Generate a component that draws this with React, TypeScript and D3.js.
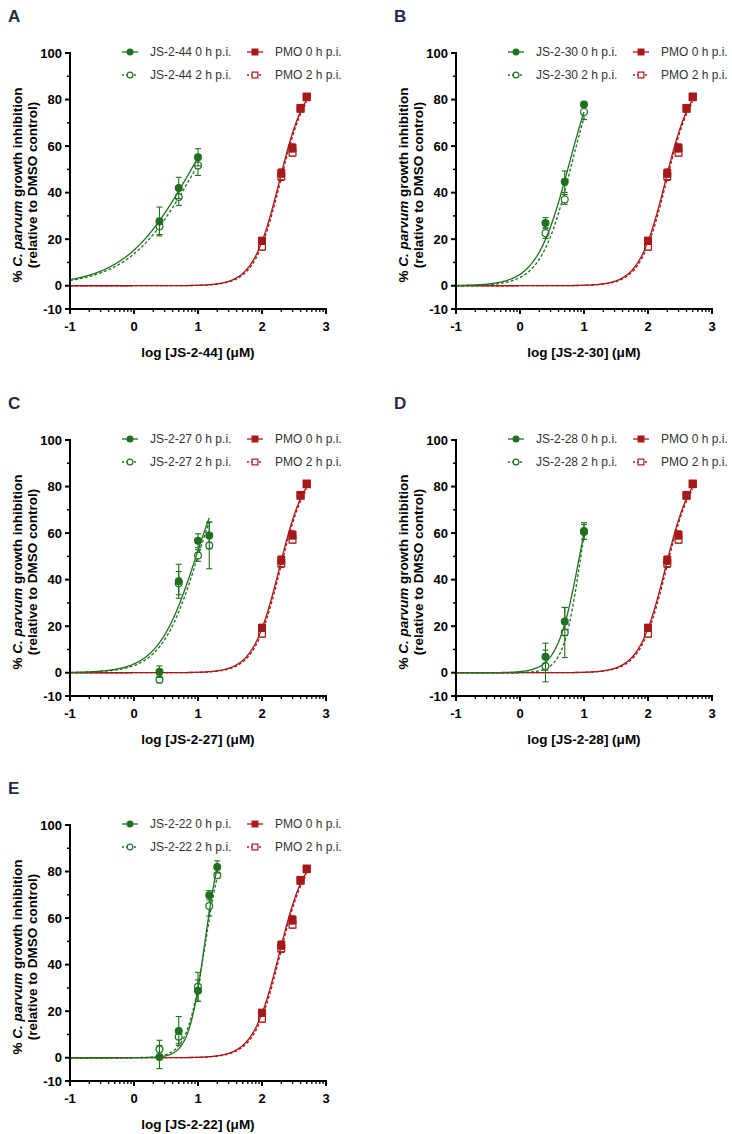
import React from 'react'
import { scaleLinear, line, range } from 'd3'

// PMO reference (same in every panel)
const pmoX = [2, 2.301, 2.477, 2.602, 2.699]
const pmo0 = [19.3, 48.4, 59.2, 76.4, 81.3]
const pmo0Err = [1.5, 1.8, 1.8, 1.2, 1.2]
const pmo2 = [16.8, 47, 57.2, 76, 81]
const pmo2Err = [1.5, 1.8, 1.5, 1.2, 1.2]
const pmoFit0 = [90, 2.272, 2.1] // top, logIC50, hill
const pmoFit2 = [89, 2.285, 2.15]

// JS-2-44
const js44X = [0.398, 0.699, 1]
const js44_0 = [27.6, 42, 55.2]
const js44_0Err = [6.2, 4.6, 3.7]
const js44_2 = [25.5, 38.1, 51.7]
const js44_2Err = [3.5, 3.6, 4.3]
const js44Fit0 = [100, 0.895, 0.83]
const js44Fit2 = [100, 0.958, 0.835]

// JS-2-30
const js30X = [0.398, 0.699, 1]
const js30_0 = [26.9, 44.7, 77.9]
const js30_0Err = [2.4, 4.6, 1.2]
const js30_2 = [22.6, 37.1, 74.7]
const js30_2Err = [2.3, 2.1, 3.3]
const js30Fit0 = [105, 0.77, 1.7]
const js30Fit2 = [105, 0.81, 1.8]

// JS-2-27
const js27X = [0.398, 0.699, 1, 1.176]
const js27_0 = [0.4, 39.3, 56.7, 59]
const js27_0Err = [2.5, 7.3, 3, 5.7]
const js27_2 = [-2.9, 38.5, 50.4, 54.7]
const js27_2Err = [1.5, 5, 2.5, 10]
const js27Fit0 = [100, 0.97, 1.45]
const js27Fit2 = [100, 1.0, 1.5]

// JS-2-28
const js28X = [0.398, 0.699, 1]
const js28_0 = [6.9, 22, 60.9]
const js28_0Err = [5.8, 6, 3.6]
const js28_2 = [2.9, 17.3, 60.5]
const js28_2Err = [6.8, 10.8, 3.2]
const js28Fit0 = [100, 0.93, 2.5]
const js28Fit2 = [100, 0.95, 3.2]

// JS-2-22
const js22X = [0.398, 0.699, 1, 1.176, 1.301]
const js22_0 = [0.3, 11.5, 28.8, 69.8, 82]
const js22_0Err = [5, 6.2, 4.6, 2, 2.6]
const js22_2 = [3.6, 9, 30.5, 65.2, 78.4]
const js22_2Err = [3.9, 3, 6.2, 4.3, 1.2]
const js22Fit0 = [100, 1.11, 3.4]
const js22Fit2 = [100, 1.12, 3.0]

const yTicks = [-10, 0, 20, 40, 60, 80, 100]
const yMinor = [10, 30, 50, 70, 90]
const xTicks = [-1, 0, 1, 2, 3]

const GREEN = '#1f701f'
const RED = '#a81818'
const FONT = '"Liberation Sans", Arial, sans-serif'

const panels = [
  { letter: 'A', name: 'JS-2-44', ox: 0, oy: 0, x: js44X, y0: js44_0, e0: js44_0Err, y2: js44_2, e2: js44_2Err, f0: js44Fit0, f2: js44Fit2 },
  { letter: 'B', name: 'JS-2-30', ox: 386, oy: 0, x: js30X, y0: js30_0, e0: js30_0Err, y2: js30_2, e2: js30_2Err, f0: js30Fit0, f2: js30Fit2 },
  { letter: 'C', name: 'JS-2-27', ox: 0, oy: 387, x: js27X, y0: js27_0, e0: js27_0Err, y2: js27_2, e2: js27_2Err, f0: js27Fit0, f2: js27Fit2 },
  { letter: 'D', name: 'JS-2-28', ox: 386, oy: 387, x: js28X, y0: js28_0, e0: js28_0Err, y2: js28_2, e2: js28_2Err, f0: js28Fit0, f2: js28Fit2 },
  { letter: 'E', name: 'JS-2-22', ox: 0, oy: 772, x: js22X, y0: js22_0, e0: js22_0Err, y2: js22_2, e2: js22_2Err, f0: js22Fit0, f2: js22Fit2 },
]

const hill = (fit: number[]) => (x: number) => fit[0] / (1 + Math.pow(10, (fit[1] - x) * fit[2]))

const Marker = ({ cx, cy, color, shape, open, r = 3.4 }: any) =>
  shape === 'circle' ? (
    <circle cx={cx} cy={cy} r={r} fill={open ? '#fff' : color} stroke={color} strokeWidth={1.2} />
  ) : (
    <rect x={cx - r} y={cy - r} width={2 * r} height={2 * r} fill={open ? '#fff' : color} stroke={color} strokeWidth={1.2} />
  )

const Series = ({ xs, ys, es, fit, color, shape, open, xScale, yScale }: any) => {
  const f = hill(fit)
  const maxX = Math.max(...xs)
  const pts = range(-1, maxX, 0.01).concat([maxX])
  const path = line<number>()
    .x((d) => xScale(d))
    .y((d) => yScale(f(d)))(pts)
  return (
    <g>
      <path d={path || ''} fill="none" stroke={color} strokeWidth={1.3} strokeDasharray={open ? '3,2' : undefined} />
      {xs.map((x: number, i: number) => {
        const cx = xScale(x)
        const top = yScale(ys[i] + es[i])
        const bot = yScale(ys[i] - es[i])
        return (
          <g key={i}>
            <line x1={cx} x2={cx} y1={top} y2={bot} stroke={color} strokeWidth={1.1} />
            <line x1={cx - 3} x2={cx + 3} y1={top} y2={top} stroke={color} strokeWidth={1.1} />
            <line x1={cx - 3} x2={cx + 3} y1={bot} y2={bot} stroke={color} strokeWidth={1.1} />
          </g>
        )
      })}
      {xs.map((x: number, i: number) => (
        <Marker key={'m' + i} cx={xScale(x)} cy={yScale(ys[i])} color={color} shape={shape} open={open} />
      ))}
    </g>
  )
}

const LegendItem = ({ x, y, color, shape, open, label }: any) => (
  <g>
    <line x1={x} x2={x + 16} y1={y} y2={y} stroke={color} strokeWidth={1.3} strokeDasharray={open ? '2,2' : undefined} />
    <Marker cx={x + 8} cy={y} color={color} shape={shape} open={open} r={2.9} />
    <text x={x + 28} y={y} dy="0.35em" fontSize={12} fill="#333" fontFamily={FONT}>
      {label}
    </text>
  </g>
)

const Panel = ({ p }: any) => {
  const ax = p.ox + 70
  const xScale = scaleLinear().domain([-1, 3]).range([ax, ax + 256])
  const yScale = scaleLinear().domain([-10, 100]).range([p.oy + 309, p.oy + 53])
  const y0 = yScale(-10)
  const minor: number[] = []
  for (let d = -1; d < 3; d++) for (let k = 2; k <= 9; k++) minor.push(d + Math.log10(k))
  const midY = p.oy + 185
  return (
    <g fontFamily={FONT}>
      <text x={p.ox + 8} y={p.oy + 22} fontSize={17} fontWeight="bold" fill="#1f2b47">
        {p.letter}
      </text>
      <LegendItem x={ax + 52} y={p.oy + 52} color={GREEN} shape="circle" open={false} label={`${p.name} 0 h p.i.`} />
      <LegendItem x={ax + 52} y={p.oy + 75} color={GREEN} shape="circle" open={true} label={`${p.name} 2 h p.i.`} />
      <LegendItem x={ax + 177} y={p.oy + 52} color={RED} shape="square" open={false} label="PMO 0 h p.i." />
      <LegendItem x={ax + 177} y={p.oy + 75} color={RED} shape="square" open={true} label="PMO 2 h p.i." />

      <Series xs={pmoX} ys={pmo2} es={pmo2Err} fit={pmoFit2} color={RED} shape="square" open={true} xScale={xScale} yScale={yScale} />
      <Series xs={pmoX} ys={pmo0} es={pmo0Err} fit={pmoFit0} color={RED} shape="square" open={false} xScale={xScale} yScale={yScale} />
      <Series xs={p.x} ys={p.y2} es={p.e2} fit={p.f2} color={GREEN} shape="circle" open={true} xScale={xScale} yScale={yScale} />
      <Series xs={p.x} ys={p.y0} es={p.e0} fit={p.f0} color={GREEN} shape="circle" open={false} xScale={xScale} yScale={yScale} />

      {/* y axis */}
      <line x1={ax} x2={ax} y1={yScale(100) - 1} y2={y0 + 1} stroke="#000" strokeWidth={2} />
      {yTicks.map((t) => (
        <g key={t}>
          <line x1={ax - 5} x2={ax} y1={yScale(t)} y2={yScale(t)} stroke="#000" strokeWidth={2} />
          <text x={ax - 8} y={yScale(t)} dy="0.36em" textAnchor="end" fontSize={13} fontWeight="bold">
            {t}
          </text>
        </g>
      ))}
      {yMinor.map((t) => (
        <line key={t} x1={ax - 3} x2={ax} y1={yScale(t)} y2={yScale(t)} stroke="#000" strokeWidth={1.5} />
      ))}
      {/* x axis */}
      <line x1={ax - 1} x2={xScale(3) + 1} y1={y0} y2={y0} stroke="#000" strokeWidth={2} />
      {xTicks.map((t) => (
        <g key={t}>
          <line x1={xScale(t)} x2={xScale(t)} y1={y0} y2={y0 + 5} stroke="#000" strokeWidth={2} />
          <text x={xScale(t)} y={p.oy + 331} textAnchor="middle" fontSize={13} fontWeight="bold">
            {t}
          </text>
        </g>
      ))}
      {minor.map((t, i) => (
        <line key={i} x1={xScale(t)} x2={xScale(t)} y1={y0} y2={y0 + 3} stroke="#000" strokeWidth={1.3} />
      ))}
      <text x={xScale(1)} y={p.oy + 357} textAnchor="middle" fontSize={13.5} fontWeight="bold">
        {`log [${p.name}] (\u03bcM)`}
      </text>
      {/* y title */}
      <text transform={`translate(${ax - 48.5},${midY}) rotate(-90)`} textAnchor="middle" fontSize={13.5} fontWeight="bold">
        % <tspan fontStyle="italic">C. parvum</tspan> growth inhibition
      </text>
      <text transform={`translate(${ax - 33},${midY}) rotate(-90)`} textAnchor="middle" fontSize={13.5} fontWeight="bold">
        (relative to DMSO control)
      </text>
    </g>
  )
}

export default function App() {
  return (
    <svg width={732} height={1134} style={{ position: 'absolute', left: 0, top: 0, background: '#fff' }}>
      <rect width={732} height={1134} fill="#fff" />
      {panels.map((p) => (
        <Panel key={p.letter} p={p} />
      ))}
    </svg>
  )
}
